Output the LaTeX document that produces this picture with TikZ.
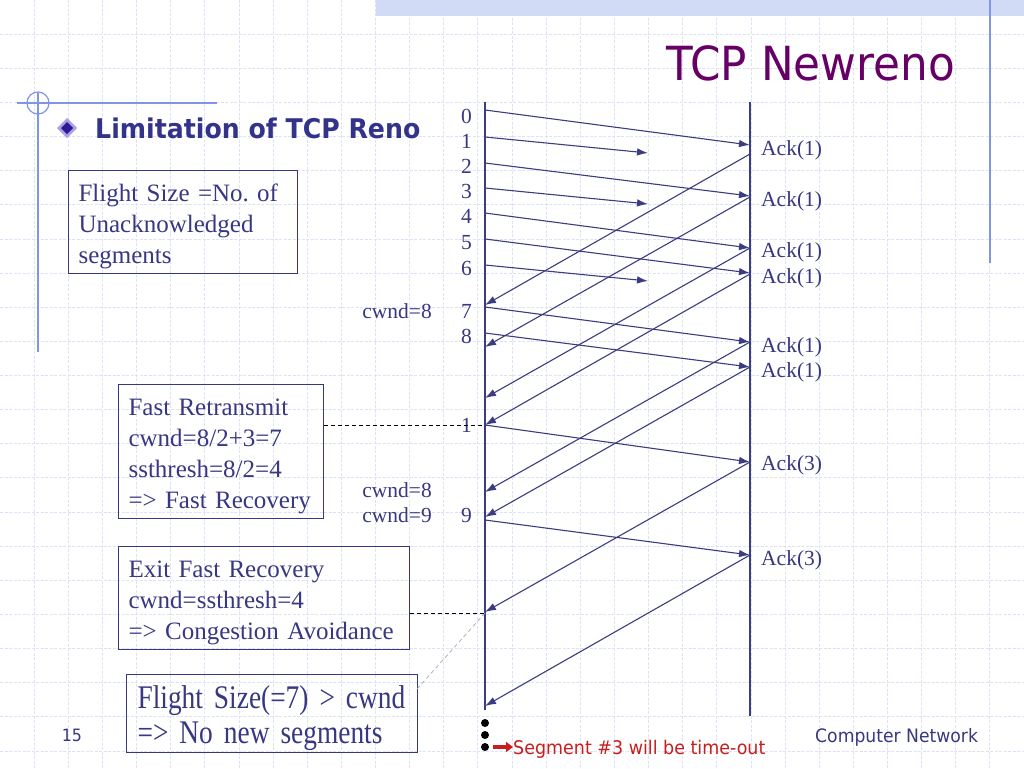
\documentclass[tikz,border=0pt]{standalone}
\usepackage{fontspec}
\setmainfont{Liberation Serif}
\newfontfamily\tah[FakeStretch=0.93]{DejaVu Sans}
\newfontfamily\condserif[FakeStretch=0.83]{Liberation Serif}
\usetikzlibrary{arrows.meta}
\definecolor{txtblue}{RGB}{55,55,130}
\definecolor{lineblue}{RGB}{60,60,130}
\definecolor{gridc}{RGB}{222,226,246}
\definecolor{bandc}{RGB}{210,219,245}
\definecolor{decoc}{RGB}{128,148,232}
\definecolor{titlec}{RGB}{102,0,102}
\definecolor{headc}{RGB}{51,51,140}
\definecolor{redc}{RGB}{200,30,30}
\definecolor{bulout}{RGB}{170,160,230}
\definecolor{bulin}{RGB}{45,25,150}
\frenchspacing
\begin{document}
\begin{tikzpicture}[x=1pt,y=-1pt,
  gridline/.style={gridc, line width=0.8pt, dash pattern=on 3pt off 1.5pt},
  deco/.style={decoc, line width=1.2pt},
  timeline/.style={lineblue, line width=1.1pt},
  msg/.style={lineblue, line width=1.1pt, -{Latex[length=11pt,width=7.5pt]}},
  lbl/.style={txtblue, font=\fontsize{21.5}{24}\selectfont, inner sep=0pt},
  box/.style={draw=black!85, line width=1.1pt, txtblue, align=left, anchor=north west,
              inner xsep=10pt, inner ysep=0pt, font=\fontsize{25}{31}\selectfont},
  dashconn/.style={black, line width=0.8pt, dash pattern=on 4pt off 3pt},
  graydash/.style={black!30, line width=0.8pt, dash pattern=on 4pt off 3pt},
  dot/.style={black}
]
% canvas
\fill[white] (0,0) rectangle (1024,768);
\useasboundingbox (0,0) rectangle (1024,768);
% background grid
\foreach \i in {1,...,29} \draw[gridline] (\i*34.1333,0) -- (\i*34.1333,768);
\foreach \j in {1,...,22} \draw[gridline] (0,\j*34.1333) -- (1024,\j*34.1333);
% top band and decorations
\fill[bandc] (376,0) rectangle (1024,16);
\draw[deco] (990,0) -- (990,263);
\draw[deco] (17,103) -- (217,103);
\draw[deco] (38,93) -- (38,352);
\draw[deco] (38,103) circle[radius=11pt];
% bullet
\fill[bulout] (67,118) -- (77,128) -- (67,138) -- (57,128) -- cycle;
\fill[bulin] (67,122) -- (73,128) -- (67,134) -- (61,128) -- cycle;

% title and heading
\node[titlec, font=\tah\fontsize{47}{50}\selectfont, anchor=base west, inner sep=0pt] (title) at (666,81) {TCP Newreno};
\node[headc, font=\tah\bfseries\fontsize{27.1}{30}\selectfont, anchor=base west, inner sep=0pt] (head) at (95,138) {Limitation of TCP Reno};

% boxes
\node[box, text width=209pt, minimum height=103pt] (boxA) at (68,170) {\rule{0pt}{25.5pt}Flight Size =No. of\\Unacknowledged\\segments};
\node[box, text width=185pt, minimum height=134pt] (boxB) at (118,384) {\rule{0pt}{25.5pt}Fast Retransmit\\cwnd=8/2+3=7\\ssthresh=8/2=4\\=> Fast Recovery};
\node[box, text width=271pt, minimum height=103pt] (boxC) at (118,546) {\rule{0pt}{25.5pt}Exit Fast Recovery\\cwnd=ssthresh=4\\=> Congestion Avoidance};
\node[box, inner xsep=11pt, text width=269pt, minimum height=78pt, font=\condserif\fontsize{33}{35}\selectfont] (boxD) at (126,674) {\rule{0pt}{33pt}\mbox{Flight Size(=7) > cwnd}\\\mbox{=> No new segments}};

% timelines
\coordinate (Ltop) at (485,102); \coordinate (Lbot) at (485,710);
\coordinate (Rtop) at (750,102); \coordinate (Rbot) at (750,716);
\draw[timeline] (Ltop) -- (Lbot);
\draw[timeline] (Rtop) -- (Rbot);

% segment endpoints
\coordinate (s0) at (485,110);  \coordinate (r0) at (750,145);
\coordinate (s1) at (485,137);  \coordinate (x1) at (648,153);
\coordinate (s2) at (485,163);  \coordinate (r2) at (750,196);
\coordinate (s3) at (485,188);  \coordinate (x3) at (648,204);
\coordinate (s4) at (485,213);  \coordinate (r4) at (750,248);
\coordinate (s5) at (485,239);  \coordinate (r5) at (750,273);
\coordinate (s6) at (485,265);  \coordinate (x6) at (648,281);
\coordinate (s7) at (485,307);  \coordinate (r7) at (750,342);
\coordinate (s8) at (485,333);  \coordinate (r8) at (750,367);
\coordinate (s1b) at (485,425); \coordinate (r1b) at (750,462);
\coordinate (s9) at (485,520);  \coordinate (r9) at (750,555);
% ack endpoints
\coordinate (a1s) at (750,154); \coordinate (a1e) at (485,305);
\coordinate (a2s) at (750,197); \coordinate (a2e) at (485,347);
\coordinate (a3s) at (750,248); \coordinate (a3e) at (485,398);
\coordinate (a4s) at (750,274); \coordinate (a4e) at (485,425);
\coordinate (a5s) at (750,342); \coordinate (a5e) at (485,492);
\coordinate (a6s) at (750,367); \coordinate (a6e) at (485,517);
\coordinate (a7s) at (750,462); \coordinate (a7e) at (485,612);
\coordinate (a8s) at (750,555); \coordinate (a8e) at (485,706);

% segments
\draw[msg] (s0) -- (r0);
\draw[msg] (s1) -- (x1);
\draw[msg] (s2) -- (r2);
\draw[msg] (s3) -- (x3);
\draw[msg] (s4) -- (r4);
\draw[msg] (s5) -- (r5);
\draw[msg] (s6) -- (x6);
\draw[msg] (s7) -- (r7);
\draw[msg] (s8) -- (r8);
\draw[msg] (s1b) -- (r1b);
\draw[msg] (s9) -- (r9);
% acks
\draw[msg] (a1s) -- (a1e);
\draw[msg] (a2s) -- (a2e);
\draw[msg] (a3s) -- (a3e);
\draw[msg] (a4s) -- (a4e);
\draw[msg] (a5s) -- (a5e);
\draw[msg] (a6s) -- (a6e);
\draw[msg] (a7s) -- (a7e);
\draw[msg] (a8s) -- (a8e);

% sequence numbers
\node[lbl, anchor=base east] (n0) at (472,123) {0};
\node[lbl, anchor=base east] (n1) at (472,148) {1};
\node[lbl, anchor=base east] (n2) at (472,173) {2};
\node[lbl, anchor=base east] (n3) at (472,198) {3};
\node[lbl, anchor=base east] (n4) at (472,223) {4};
\node[lbl, anchor=base east] (n5) at (472,249) {5};
\node[lbl, anchor=base east] (n6) at (472,275) {6};
\node[lbl, anchor=base east] (n7) at (472,318) {7};
\node[lbl, anchor=base east] (n8) at (472,343) {8};
\node[lbl, anchor=base east] (n1b) at (472,432) {1};
\node[lbl, anchor=base east] (n9) at (472,522) {9};
% cwnd labels
\node[lbl, anchor=base east] (c1) at (432,318) {cwnd=8};
\node[lbl, anchor=base east] (c2) at (432,497) {cwnd=8};
\node[lbl, anchor=base east] (c3) at (432,522) {cwnd=9};
% ack labels
\node[lbl, anchor=base west] (k1) at (761,155) {Ack(1)};
\node[lbl, anchor=base west] (k2) at (761,206) {Ack(1)};
\node[lbl, anchor=base west] (k3) at (761,257) {Ack(1)};
\node[lbl, anchor=base west] (k4) at (761,283) {Ack(1)};
\node[lbl, anchor=base west] (k5) at (761,352) {Ack(1)};
\node[lbl, anchor=base west] (k6) at (761,377) {Ack(1)};
\node[lbl, anchor=base west] (k7) at (761,470) {Ack(3)};
\node[lbl, anchor=base west] (k8) at (761,565) {Ack(3)};

% dashed connectors
\coordinate (cexit) at (485,613);
\coordinate (dEnd) at (417,689);
\draw[dashconn] (s1b -| boxB.east) -- (s1b);
\draw[dashconn] (cexit -| boxC.east) -- (cexit);
\draw[graydash] (cexit) -- (dEnd);

% continuation dots and note
\fill[dot] (485,723) circle[radius=4pt];
\fill[dot] (485,735) circle[radius=4pt];
\fill[dot] (485,747) circle[radius=4pt];
\coordinate (ra) at (493,747);
\node[redc, font=\tah\fontsize{18.8}{22}\selectfont, anchor=base west, inner sep=0pt] (note) at (513,754) {Segment \#3 will be time-out};
\draw[redc, line width=3.5pt, -{Triangle[length=7pt,width=10pt]}] (ra) -- (note.west |- ra);

% footer
\node[txtblue, font=\tah\fontsize{17}{20}\selectfont, anchor=base, inner sep=0pt] (pg) at (72,741) {15};
\node[txtblue, font=\tah\fontsize{18.5}{22}\selectfont, anchor=base west, inner sep=0pt] (foot) at (815,742) {Computer Network};
\end{tikzpicture}
\end{document}
